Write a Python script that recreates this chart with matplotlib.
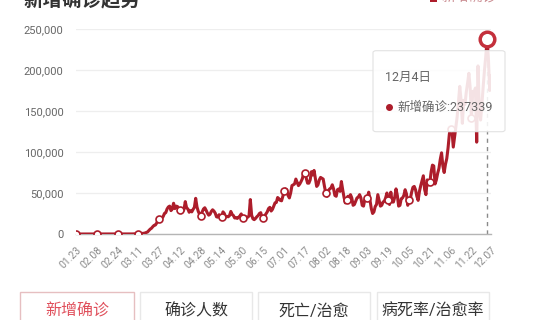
import matplotlib

matplotlib.use("Agg")
import matplotlib.pyplot as plt
import numpy as np
import pandas as pd
from matplotlib.patches import Rectangle, FancyBboxPatch
from matplotlib.ticker import FuncFormatter

plt.rcParams["font.family"] = ["Roboto", "Noto Sans CJK SC", "DejaVu Sans"]

# ----- data (daily new confirmed) ----------------------------------------
START, END = "2020-01-23", "2020-12-07"
jan = [1, 0, 1, 0, 2, 0, 0, 0, 2]
feb = [1, 0, 0, 0, 0, 0, 0, 0, 0, 0,
       1, 0, 0, 0, 0, 0, 0, 0, 0, 0,
       1, 0, 0, 0, 0, 0, 3, 2, 6]
mar = [7, 23, 25, 31, 68, 80, 103, 126, 170, 280,
       320, 450, 600, 720, 850, 1200, 1800, 2500, 4200, 5900,
       7000, 8900, 10500, 10900, 13300, 16800, 18400, 19500, 19300, 21300,
       25100]
apr = [26000, 30500, 33000, 34000, 28500, 30500, 37500, 31000, 34000, 33500,
       30000, 29500, 26000, 27500, 30000, 39500, 32000, 30500, 26500, 28500,
       27000, 30000, 32500, 43500, 33000, 27500, 24000, 22000, 27000, 30500]
may = [32000, 29000, 25500, 23000, 24000, 27500, 29500, 28000, 25500, 21000,
       20500, 23500, 22000, 21000, 27000, 25000, 20500, 21500, 21000, 22500,
       27500, 24000, 22500, 19500, 20000, 19000, 20500, 22000, 24500, 20000,
       21000]
jun = [21500, 20000, 20500, 22000, 42000, 23000, 18500, 17500, 19000, 21000,
       22500, 25000, 26000, 20000, 19500, 22000, 24500, 27000, 31000, 32500,
       28000, 30000, 34000, 38000, 38500, 44500, 43000, 41000, 40500, 46000]
jul = [52000, 55000, 54000, 47000, 44000, 50000, 59000, 60000, 61000, 67000,
       63000, 59000, 61000, 64000, 67500, 74500, 75000, 68000, 62000, 62000,
       66000, 76000, 72000, 77500, 68000, 58000, 60000, 66000, 69000, 68000,
       67000]
aug = [58000, 50000, 46000, 53000, 55000, 56000, 60000, 55000, 47000, 46000,
       54000, 55000, 52000, 64000, 54000, 45000, 38000, 42000, 46000, 45000,
       48000, 44000, 35000, 36000, 40000, 44000, 45000, 48000, 44000, 35000,
       34000]
sep = [42000, 43000, 44000, 51000, 41000, 31000, 25000, 27000, 33500, 36000,
       48000, 41000, 34000, 35000, 39000, 40000, 44000, 50000, 42000, 36000,
       51000, 39000, 39000, 45000, 55000, 47000, 34000, 35000, 43000, 44000]
oct_ = [47000, 54000, 49000, 35000, 42000, 43000, 51000, 57000, 58000, 54000,
        46000, 41000, 52000, 59000, 65000, 71000, 54000, 48000, 66000, 60000,
        63000, 76000, 84000, 83000, 61000, 66000, 74000, 80000, 91000, 99000,
        83000]
nov = [75000, 85000, 92000, 105000, 122000, 128000, 126000, 106000, 118000, 130000,
       143000, 162000, 180000, 163000, 135000, 163000, 158000, 173000, 184000, 196000,
       178000, 141000, 174000, 172000, 178000, 112000, 205000, 153000, 139000, 158000]
dec = [180000, 200000, 217000, 237339, 214000, 175000, 193000]

tick_labels = ["01.23", "02.08", "02.24", "03.11", "03.27", "04.12", "04.28",
               "05.14", "05.30", "06.15", "07.01", "07.17", "08.02", "08.18",
               "09.03", "09.19", "10.05", "10.21", "11.06", "11.22", "12.07"]
y_ticks = [0, 50000, 100000, 150000, 200000, 250000]
hl_date, hl_label = "2020-12-04", "12月4日"
series_name = "新增确诊"
buttons = ["新增确诊", "确诊人数", "死亡/治愈", "病死率/治愈率"]
# -------------------------------------------------------------------------

LINE = "#ad1d2b"
RING = "#c4303c"
W, H = 540, 320


def fx(px):
    return px / W


def fy(py):
    return 1 - py / H


dates = pd.date_range(START, END, freq="D")
cases = np.array(jan + feb + mar + apr + may + jun + jul + aug + sep + oct_ + nov + dec)
x = np.arange(len(cases))
fmt = dates.strftime("%m.%d")
tick_pos = [int(np.where(fmt == t)[0][0]) for t in tick_labels]
hl_i = int(np.where(dates == pd.Timestamp(hl_date))[0][0])

fig = plt.figure(figsize=(W / 100, H / 100), dpi=100)
ax = fig.add_axes([fx(76), fy(234), fx(491) - fx(76), fy(29) - fy(234)])
ax.set_xlim(0, len(cases) - 1)
ax.set_ylim(0, 250000)

ax.plot(x, cases, color=LINE, lw=2.2, marker="o", ms=5, mfc="white",
        mec=LINE, mew=1.2, markevery=16, zorder=3)

ax.set_yticks(y_ticks)
ax.yaxis.set_major_formatter(FuncFormatter(lambda v, p: f"{int(v):,}"))
ax.tick_params(axis="y", length=0, pad=9, labelsize=8, labelcolor="#666666")
ax.yaxis.grid(True, color="#eeeeee", lw=0.9)
ax.set_axisbelow(True)
for s in ("top", "right", "left"):
    ax.spines[s].set_visible(False)
ax.spines["bottom"].set_color("#b5b5b5")
ax.spines["bottom"].set_linewidth(1.0)

ax.set_xticks(tick_pos)
ax.set_xticklabels(tick_labels, rotation=45, ha="right", va="top",
                   rotation_mode="anchor")
ax.tick_params(axis="x", length=0, pad=8, labelsize=7.5, labelcolor="#8c8c8c")

# tooltip: dashed pointer, box, highlighted point
ax.plot([hl_i, hl_i], [0, cases[hl_i]], ls=(0, (3, 3)), color="#8a8a8a", lw=1.0, zorder=2.5)
box = FancyBboxPatch((fx(373), fy(131.7)), fx(505) - fx(373), fy(50.7) - fy(131.7),
                     boxstyle="round,pad=0,rounding_size=0.006", transform=fig.transFigure,
                     fc=(1, 1, 1, 0.88), ec="#e2e2e2", lw=0.8, zorder=4, clip_on=False)
ax.add_patch(box)
ax.plot(hl_i, cases[hl_i], "o", ms=10.5, mfc="white", mec=RING, mew=2.5, zorder=6, clip_on=False)
fig.text(fx(385), fy(77), hl_label, fontsize=9, color="#666666", va="center", zorder=7)
ax.plot(fx(389), fy(107), "o", ms=4, color=LINE, transform=fig.transFigure, clip_on=False, zorder=7)
fig.text(fx(397), fy(107), f"{series_name}:{cases[hl_i]}", fontsize=9, color="#666666",
         va="center", zorder=7)

# title and legend (cut by the top edge, as in the source screenshot)
fig.text(fx(23), fy(-1), "新增确诊趋势", fontsize=14, weight="bold", color="#333333", va="center")
fig.add_artist(Rectangle((fx(430), fy(2)), fx(7), 9 / H, transform=fig.transFigure,
                         fc=LINE, ec="none"))
fig.text(fx(441), fy(-3), series_name, fontsize=10, color="#c98a8f", va="center")

# tab buttons
btn_x = [(20, 134), (140, 252), (258, 370), (377, 489)]
for i, (label, (a, b)) in enumerate(zip(buttons, btn_x)):
    ec = "#e6bfc1" if i == 0 else "#e8e8e8"
    tc = "#e0505c" if i == 0 else "#333333"
    fig.add_artist(Rectangle((fx(a), fy(330)), fx(b) - fx(a), (330 - 292) / H,
                             transform=fig.transFigure, fc="white", ec=ec, lw=1.0))
    fig.text(fx((a + b) / 2), fy(311), label, fontsize=11.5, color=tc, ha="center", va="center")

fig.savefig("out.png", dpi=100)
